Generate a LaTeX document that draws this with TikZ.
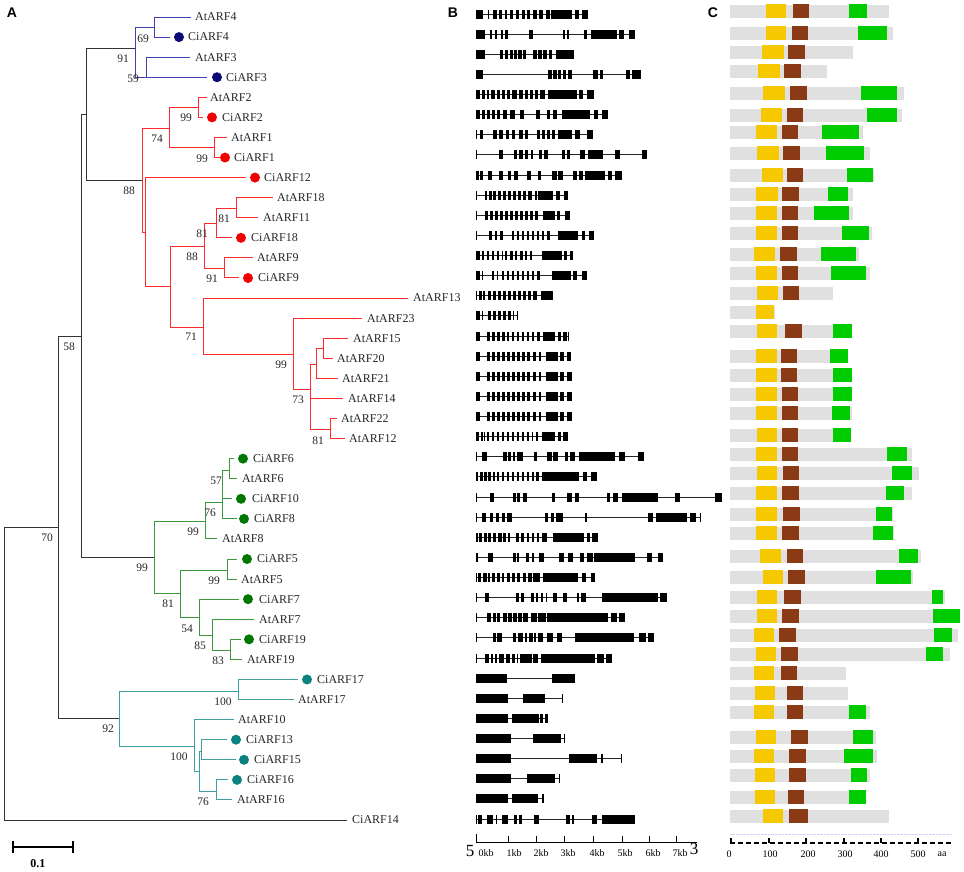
\documentclass[tikz,border=0pt]{standalone}
\usepackage{fontspec}
\setmainfont{Liberation Serif}
\newfontfamily\panelfont{Liberation Sans}
\usetikzlibrary{positioning}

\definecolor{treegray}{HTML}{333333}
\definecolor{cladeblue}{HTML}{4040B0}
\definecolor{dotblue}{HTML}{0A0A78}
\definecolor{cladered}{HTML}{FF2A2A}
\definecolor{dotred}{HTML}{F00000}
\definecolor{cladegreen}{HTML}{3C9A3C}
\definecolor{dotgreen}{HTML}{007800}
\definecolor{cladeteal}{HTML}{3F9E9E}
\definecolor{dotteal}{HTML}{0A8282}
\definecolor{protgray}{HTML}{E0E0E0}
\definecolor{domyellow}{HTML}{F5C800}
\definecolor{dombrown}{HTML}{8B3A16}
\definecolor{domgreen}{HTML}{00CC00}

\begin{document}
\begin{tikzpicture}[x=1pt,y=-1pt,
  brblack/.style={draw=treegray,line width=1pt},
  brblue/.style={draw=cladeblue,line width=1pt},
  brred/.style={draw=cladered,line width=1pt},
  brgreen/.style={draw=cladegreen,line width=1pt},
  brteal/.style={draw=cladeteal,line width=1pt},
  leaf/.style={anchor=west,inner sep=0pt,text=black!85,font=\fontsize{12}{12}\selectfont},
  boot/.style={inner sep=0pt,text=black!85,font=\fontsize{11.5}{12}\selectfont},
  sdot/.style={circle,inner sep=0pt,minimum size=10pt},
  intron/.style={draw=black!85,line width=0.8pt},
  axlabel/.style={inner sep=0pt,font=\fontsize{10}{10}\selectfont},
  panel/.style={inner sep=0pt,font=\panelfont\bfseries\fontsize{14}{14}\selectfont}]

\useasboundingbox (0,0) rectangle (964,871);

\node[panel] (pA) at (12,13) {A};
\node[panel] (pB) at (453,13) {B};
\node[panel] (pC) at (713,13) {C};

% leaves of the tree
\foreach \nm/\tx/\lx/\dotx/\dc [count=\i from 0] in {AtARF4/191/195/0/dotblue, CiARF4/170/188/179/dotblue, AtARF3/190/195/0/dotblue, CiARF3/207/226/217/dotblue, AtARF2/207/210/0/dotred, CiARF2/203/222/212/dotred, AtARF1/227/231/0/dotred, CiARF1/220/234/225/dotred, CiARF12/246/264/255/dotred, AtARF18/273/277/0/dotred, AtARF11/258/263/0/dotred, CiARF18/232/251/241/dotred, AtARF9/253/257/0/dotred, CiARF9/239/258/248/dotred, AtARF13/408/413/0/dotred, AtARF23/362/367/0/dotred, AtARF15/348/353/0/dotred, AtARF20/333/337/0/dotred, AtARF21/338/342/0/dotred, AtARF14/343/348/0/dotred, AtARF22/337/341/0/dotred, AtARF12/345/349/0/dotred, CiARF6/234/253/243/dotgreen, AtARF6/237/242/0/dotgreen, CiARF10/232/252/241/dotgreen, CiARF8/237/254/244/dotgreen, AtARF8/217/222/0/dotgreen, CiARF5/237/257/247/dotgreen, AtARF5/237/241/0/dotgreen, CiARF7/239/259/248/dotgreen, AtARF7/254/259/0/dotgreen, CiARF19/241/259/249/dotgreen, AtARF19/242/247/0/dotgreen, CiARF17/298/317/307/dotteal, AtARF17/294/298/0/dotteal, AtARF10/234/238/0/dotteal, CiARF13/227/246/236/dotteal, CiARF15/236/254/244/dotteal, CiARF16/228/247/237/dotteal, AtARF16/232/237/0/dotteal, CiARF14/347/352/0/black}{
  \pgfmathsetmacro\ly{17+20.075*\i}
  \coordinate (\nm) at (\tx,\ly);
  \node[leaf] (lb\nm) at (\lx,\ly) {\nm};
  \ifnum\dotx>0 \node[sdot,fill=\dc] (dt\nm) at (\dotx,\ly) {}; \fi
}

% inner nodes
\coordinate (root) at (4,673);
\coordinate (n70) at (58,527);
\coordinate (n58) at (81,336);
\coordinate (nK) at (86,114);
\coordinate (n91) at (135,48);
\coordinate (n69) at (154,27);
\coordinate (n59) at (146,77);
\coordinate (n88) at (142,180);
\coordinate (n74) at (169,128);
\coordinate (n99a) at (198,107);
\coordinate (n99b) at (214,147);
\coordinate (nX) at (145,232);
\coordinate (nY) at (170,286);
\coordinate (n88b) at (204,246);
\coordinate (n81a) at (216,223);
\coordinate (n81b) at (236,208);
\coordinate (n91b) at (224,268);
\coordinate (n71) at (203,327);
\coordinate (n99c) at (293,354);
\coordinate (n73) at (310,389);
\coordinate (nA) at (316,364);
\coordinate (nB) at (323,348);
\coordinate (n81c) at (330,429);
\coordinate (n99g) at (154,557);
\coordinate (n99g1) at (205,521);
\coordinate (n76) at (222,502);
\coordinate (n57) at (229,470);
\coordinate (n81g) at (180,593);
\coordinate (n99g2) at (227,570);
\coordinate (n54) at (199,617);
\coordinate (n85) at (212,635);
\coordinate (n83) at (230,650);
\coordinate (n92) at (119,718);
\coordinate (n100a) at (238,691);
\coordinate (n100b) at (194,746);
\coordinate (nT1) at (199,771);
\coordinate (nT2) at (201,751);
\coordinate (n76t) at (216,791);

\foreach \p/\c in {root/n70, root/CiARF14, n70/n58, n70/n92, n58/nK, n58/n99g, nK/n91, nK/n88}
  \draw[brblack] (\p) |- (\c);
\foreach \p/\c in {n91/n69, n91/n59, n69/AtARF4, n69/CiARF4, n59/AtARF3, n59/CiARF3}
  \draw[brblue] (\p) |- (\c);
\foreach \p/\c in {n88/n74, n88/nX, n74/n99a, n74/n99b, n99a/AtARF2, n99a/CiARF2, n99b/AtARF1, n99b/CiARF1, nX/CiARF12, nX/nY, nY/n88b, nY/n71, n88b/n81a, n88b/n91b, n81a/n81b, n81a/CiARF18, n81b/AtARF18, n81b/AtARF11, n91b/AtARF9, n91b/CiARF9, n71/AtARF13, n71/n99c, n99c/AtARF23, n99c/n73, n73/nA, n73/AtARF14, n73/n81c, nA/nB, nA/AtARF21, nB/AtARF15, nB/AtARF20, n81c/AtARF22, n81c/AtARF12}
  \draw[brred] (\p) |- (\c);
\foreach \p/\c in {n99g/n99g1, n99g/n81g, n99g1/n76, n99g1/AtARF8, n76/n57, n76/CiARF10, n76/CiARF8, n57/CiARF6, n57/AtARF6, n81g/n99g2, n81g/n54, n99g2/CiARF5, n99g2/AtARF5, n54/CiARF7, n54/n85, n85/AtARF7, n85/n83, n83/CiARF19, n83/AtARF19}
  \draw[brgreen] (\p) |- (\c);
\foreach \p/\c in {n92/n100a, n92/n100b, n100a/CiARF17, n100a/AtARF17, n100b/AtARF10, n100b/nT1, nT1/nT2, nT1/n76t, nT2/CiARF13, nT2/CiARF15, n76t/CiARF16, n76t/AtARF16}
  \draw[brteal] (\p) |- (\c);

% bootstrap values
\foreach \bx/\by/\bv [count=\k] in {123/59/91, 143/39/69, 133/79/59, 186/118/99, 157/139/74, 202/159/99, 129/191/88, 224/219/81, 202/234/81, 192/257/88, 212/279/91, 191/337/71, 69/347/58, 281/365/99, 298/400/73, 318/441/81, 216/481/57, 210/513/76, 193/532/99, 47/538/70, 142/568/99, 214/581/99, 168/604/81, 187/629/54, 200/646/85, 218/661/83, 223/702/100, 108/729/92, 179/757/100, 203/802/76}
  \node[boot] (bs\k) at (\bx,\by) {\bv};

% scale bar
\coordinate (sb0) at (13,847);
\coordinate (sb1) at (73,847);
\draw[line width=1.6pt] (sb0) -- (sb1);
\draw[line width=1.6pt] ([yshift=-6pt]sb0) -- ([yshift=6pt]sb0);
\draw[line width=1.6pt] ([yshift=-6pt]sb1) -- ([yshift=6pt]sb1);
\node[inner sep=0pt,font=\bfseries\fontsize{12}{12}\selectfont] (sbtext) at (38,864) {0.1};

% gene structures
\foreach \len/\ex [count=\i from 0] in {
 112/{0/7,12/13,17/21,23/26,29/31,34/37,40/43,46/49,51/54,57/61,63/67,70/74,75/96,99/103,106/112},
 159/{0/9,14/16,19/21,25/27,29/32,53/57,87/89,91/93,108/111,115/141,143/148,153/159},
 98/{0/9,24/27,29/32,34/37,38/41,42/46,47/50,57/61,62/66,67/71,73/76,80/98},
 165/{0/7,72/76,77/81,82/85,87/90,92/96,117/122,124/127,150/154,156/165},
 118/{0/4,6/9,11/13,15/19,21/24,26/29,31/34,36/41,43/47,49/52,54/57,59/62,64/69,72/101,103/107,111/118},
 132/{0/4,6/9,11/14,16/19,21/24,27/31,34/39,44/48,60/64,71/74,77/81,86/114,118/122,126/132},
 117/{0/1,4/7,17/21,23/27,30/33,36/39,43/47,49/52,61/64,66/69,71/74,76/79,82/96,99/104,111/117},
 171/{0/1,23/27,38/41,43/47,49/52,55/57,63/66,68/72,86/89,91/94,104/109,112/127,139/144,166/171},
 146/{0/3,4/7,12/16,23/27,32/35,38/42,51/55,62/65,76/81,82/87,97/101,103/107,109/129,132/136,139/146},
 92/{0/1,9/11,13/16,17/20,22/25,27/30,32/35,37/40,42/45,47/50,52/56,59/61,62/77,80/84,88/92},
 94/{0/1,9/12,14/17,19/22,24/27,29/32,34/37,39/42,44/47,49/52,54/57,59/62,67/79,81/84,89/94},
 118/{0/1,13/16,19/21,24/27,36/38,41/43,46/48,51/53,56/58,61/63,66/68,71/74,82/102,106/109,113/118},
 97/{0/1,1/4,6/8,11/13,16/18,21/23,26/27,29/31,34/37,39/41,44/47,49/51,54/56,66/86,88/91,94/97},
 111/{0/1,1/4,6/7,16/18,21/22,26/28,31/33,36/38,41/43,46/48,51/53,56/58,61/64,76/95,97/101,106/111},
 77/{0/1,3/6,7/9,12/15,17/20,22/25,27/30,32/35,37/40,42/45,47/50,52/55,57/61,65/77},
 42/{0/1,1/4,6/7,12/15,17/20,22/25,27/30,32/35,37/38,41/42},
 93/{0/1,1/4,11/14,16/19,21/24,26/29,31/33,36/38,41/43,46/48,51/53,56/58,61/64,67/79,82/85,87/91,92/93},
 95/{0/1,1/4,11/14,16/19,21/24,26/29,31/34,36/39,41/44,46/49,51/54,57/60,63/65,70/82,84/88,91/94,94/95},
 96/{0/1,1/4,11/14,16/19,21/24,26/29,31/34,36/39,41/44,46/49,51/54,57/60,63/65,70/82,84/88,91/95,95/96},
 96/{0/1,1/4,11/14,16/19,21/24,26/29,31/34,36/39,41/44,46/49,51/54,57/60,63/65,70/82,84/88,91/95,95/96},
 96/{0/1,1/4,11/14,16/19,21/24,26/29,31/34,36/39,41/44,46/49,51/54,57/60,63/65,70/82,84/88,91/95,95/96},
 92/{0/1,1/3,5/7,8/9,11/13,16/18,21/23,26/28,31/33,36/38,41/43,46/48,51/53,56/57,60/62,66/79,82/85,87/91,91/92},
 168/{0/1,6/11,27/31,32/35,37/39,41/47,58/61,71/76,77/82,89/92,94/99,103/139,143/149,162/168},
 121/{0/2,4/7,8/11,12/15,17/19,21/23,26/28,31/33,36/38,41/43,46/48,51/53,56/58,60/63,66/103,107/111,115/121},
 246/{0/1,14/18,37/40,41/44,47/51,76/79,91/96,99/103,131/134,137/142,146/182,199/204,239/246},
 225/{0/1,6/10,14/17,20/23,26/29,31/36,69/72,75/78,80/87,109/111,172/177,180/211,214/220,224/225},
 122/{0/2,3/6,8/11,12/15,17/20,22/26,27/30,32/34,40/43,45/48,51/53,56/58,61/63,66/71,77/108,111/114,116/122},
 187/{0/2,12/17,37/40,41/43,50/53,56/58,63/68,83/88,92/97,104/108,111/117,118/159,171/176,182/187},
 119/{0/1,2/5,7/11,12/14,16/19,21/24,26/28,31/34,36/39,41/44,47/50,52/56,57/64,67/102,106/110,115/119},
 191/{0/1,9/13,40/43,45/48,55/58,60/62,65/67,70/71,77/81,87/91,101/103,105/110,126/182,184/191},
 149/{0/1,11/15,17/20,21/24,27/31,32/36,37/41,42/46,47/52,55/61,62/70,71/132,135/141,143/149},
 178/{0/1,17/20,21/26,37/40,42/47,49/51,53/57,58/60,62/67,71/77,81/86,99/158,163/170,172/178},
 136/{0/1,9/13,15/17,19/21,23/28,30/34,36/39,41/42,44/56,57/62,65/119,121/128,130/136},
 99/{0/31,76/99},
 87/{0/32,47/69,86/87},
 72/{0/32,36/63,64/67,69/72},
 89/{0/35,57/85,88/89},
 146/{0/35,93/121,125/127,145/146},
 84/{0/35,51/79,83/84},
 68/{0/32,36/62,66/68},
 159/{0/1,2/6,11/17,20/21,26/32,38/41,43/46,58/63,90/94,96/98,116/121,126/159}}{
  \pgfmathsetmacro\gy{14+20.125*\i}
  \draw[intron] (476,\gy) -- ({476+\len},\gy);
  \foreach \s/\e in \ex
    \fill[black] ({476+\s},{\gy-4.5}) rectangle ({476+\e},{\gy+4.5});
}

% kb axis
\draw[line width=1pt] (476,842) -- (697,842);
\draw[line width=1pt] (476,842) -- (476,834);
\foreach \t in {508,536,564,593,622,649,676}
  \draw[line width=1pt] (\t,842) -- (\t,836);
\foreach \lx/\lt [count=\k] in {486/0kb,514/1kb,541/2kb,568/3kb,597/4kb,625/5kb,653/6kb,680/7kb}
  \node[axlabel] (kb\k) at (\lx,853) {\lt};
\node[inner sep=0pt,font=\fontsize{17}{17}\selectfont] (fiveEnd) at (470,851) {5};
\node[inner sep=0pt,font=\fontsize{17}{17}\selectfont] (threeEnd) at (694,849) {3};

% protein domains
\foreach \ry/\g/\ya/\yb/\ba/\bb/\ga/\gb in {
 11/889/766/786/793/809/849/867, 33/893/766/786/792/808/858/887,
 52/853/762/784/788/805/0/0, 71/827/758/780/784/801/0/0,
 93/904/763/785/790/807/861/897, 115/902/761/782/787/803/867/897,
 132/863/756/777/782/798/822/859, 153/870/757/779/783/800/826/864,
 175/874/762/783/787/803/847/873, 194/853/756/778/782/799/828/848,
 213/853/756/777/782/798/814/849, 233/872/756/777/782/798/842/869,
 254/859/754/775/780/797/821/856, 273/870/756/777/782/798/831/866,
 293/833/757/778/783/799/0/0, 312/775/756/774/0/0/0/0,
 331/852/757/777/785/802/833/852, 356/848/756/777/781/797/830/848,
 375/852/756/777/781/797/833/852, 394/852/756/777/782/798/833/852,
 413/852/756/777/782/798/832/850, 435/851/757/777/782/798/833/851,
 454/912/756/777/782/798/887/907, 473/919/757/777/783/799/892/912,
 493/912/756/777/782/799/886/904, 514/893/756/777/783/800/876/892,
 533/894/756/777/782/799/873/893, 556/921/760/781/787/803/899/918,
 577/913/763/783/788/805/876/911, 597/945/757/777/784/801/932/943,
 616/960/757/777/782/799/933/960, 635/958/754/774/779/796/934/952,
 654/950/756/776/781/798/926/943, 673/846/754/774/781/797/0/0,
 693/848/755/775/787/803/0/0, 712/870/754/774/787/803/849/866,
 737/876/756/776/791/808/853/873, 756/877/754/774/789/806/844/873,
 775/870/755/775/789/806/851/867, 797/866/755/775/788/804/849/866,
 816/889/763/783/789/808/0/0}{
  \fill[protgray] (730,{\ry-6.5}) rectangle (\g,{\ry+6.5});
  \fill[domyellow] (\ya,{\ry-7}) rectangle (\yb,{\ry+7});
  \ifnum\ba>0 \fill[dombrown] (\ba,{\ry-7}) rectangle (\bb,{\ry+7}); \fi
  \ifnum\ga>0 \fill[domgreen] (\ga,{\ry-7}) rectangle (\gb,{\ry+7}); \fi
}

% aa axis
\draw[densely dotted,draw=blue!20] (730,834) -- (952,834);
\draw[line width=1.6pt,dash pattern=on 5pt off 3pt] (730,843) -- (952,843);
\foreach \t in {731,769,806,844,881,918}
  \draw[line width=1.4pt] (\t,843) -- (\t,838);
\foreach \lx/\lt [count=\k] in {729/0,770/100,808/200,845/300,881/400,918/500,942/aa}
  \node[axlabel] (aa\k) at (\lx,854) {\lt};
\end{tikzpicture}
\end{document}
